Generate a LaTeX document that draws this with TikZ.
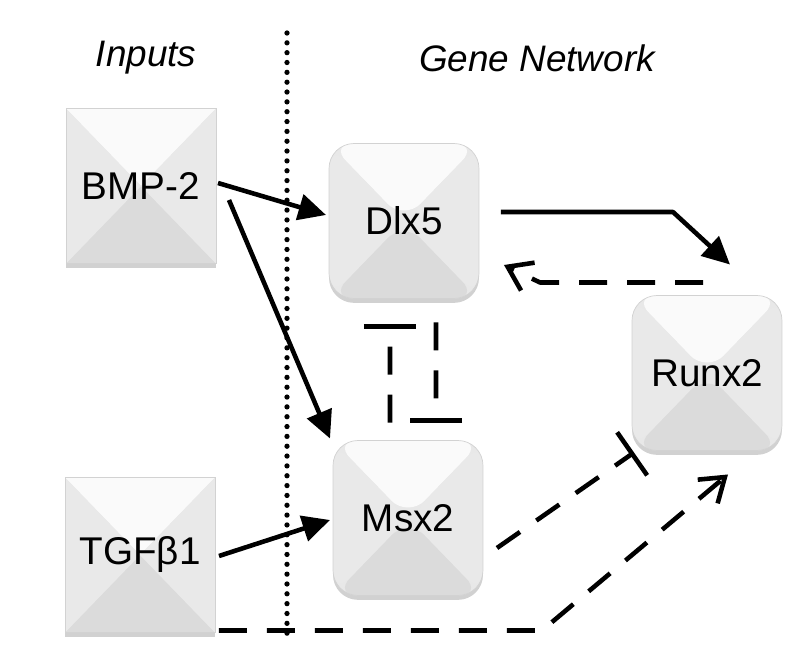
\documentclass[tikz,border=0pt]{standalone}
\usepackage{fontspec}
\setmainfont{Liberation Sans}
\usetikzlibrary{arrows.meta,shadows}

\tikzset{
  bevel/.style={path picture={
      \path (path picture bounding box.north west) coordinate (pnw)
            (path picture bounding box.north east) coordinate (pne)
            (path picture bounding box.south west) coordinate (psw)
            (path picture bounding box.south east) coordinate (pse)
            (path picture bounding box.center) coordinate (pc);
      \fill[gray!4] (pnw) -- (pne) -- (pc) -- cycle;
      \fill[gray!28] (psw) -- (pse) -- (pc) -- cycle;
      \fill[gray!17] (pnw) -- (psw) -- (pc) -- cycle;
      \fill[gray!17] (pne) -- (pse) -- (pc) -- cycle;
    }},
  input/.style={draw=gray!35, fill=gray!18, bevel, outer sep=0pt,
    minimum width=3cm, minimum height=3.1cm,
    font=\fontsize{22}{26}\selectfont,
    drop shadow={shadow xshift=0pt, shadow yshift=-2.5pt, fill=black!40, opacity=0.45}},
  gene/.style={input, rounded corners=0.5cm},
  head/.style={font=\itshape\fontsize{21}{25}\selectfont},
  act/.style={line width=2.6pt, line join=round, -{Triangle[length=0.55cm,width=0.52cm]}},
  weak/.style={line width=2.6pt, line join=round, dash pattern=on 0.56cm off 0.4cm},
  fb/.style={weak, -{Straight Barb[length=0.45cm,width=0.62cm]}},
  inhib/.style={weak, -{Bar[width=1.05cm]}},
  divider/.style={line width=3pt, line cap=round, dash pattern=on 0pt off 5.6pt},
}

\begin{document}
\begin{tikzpicture}[x=0.02cm, y=-0.02cm]
  \useasboundingbox (0,0) rectangle (799,655);

  % column headings and divider
  \node[head] (inputs) at (146,58) {Inputs};
  \node[head] (genenet) at (537,58) {Gene Network};
  \coordinate (divtop) at (287,33);
  \coordinate (divbot) at (287,642);
  \draw[divider] (divtop) -- (divbot);

  % boxes
  \node[input] (bmp) at (141,186) {BMP-2};
  \node[input] (tgf) at (140,555) {TGFβ1};
  \node[gene] (dlx) at (404,221) {Dlx5};
  \node[gene] (msx) at (408,518) {Msx2};
  \node[gene] (runx) at (707,373) {Runx2};

  % inputs
  \draw[act] ([shift={(2,-3)}]bmp.east) -- ([shift={(-3,-6)}]dlx.west);
  \draw[act] ([shift={(13,14)}]bmp.east) -- ([shift={(-3,-2)}]msx.north west);
  \draw[act] ([shift={(4,1)}]tgf.east) -- ([shift={(-3,2)}]msx.west);
  \draw[fb] ([shift={(4,-2)}]tgf.south east) -- ++(323,0) -- ([shift={(21,24)}]runx.south);

  % network
  \draw[act] ([shift={(22,-9)}]dlx.east) -- ++(172,0) -- ([shift={(23,-31)}]runx.north);
  \draw[fb] ([shift={(-4,-13)}]runx.north) -- ++(-163,0) -- ([shift={(25,44)}]dlx.east);
  \draw[inhib, shorten <=0.36cm, shorten >=0.52cm] ([xshift=-0.36cm]msx.north) -- ([xshift=-0.28cm]dlx.south);
  \draw[inhib, shorten <=0.48cm, shorten >=0.36cm] ([xshift=0.64cm]dlx.south) -- ([xshift=0.56cm]msx.north);
  \draw[inhib] ([shift={(14,30)}]msx.east) -- ([shift={(2,2)}]runx.south west);
\end{tikzpicture}
\end{document}
